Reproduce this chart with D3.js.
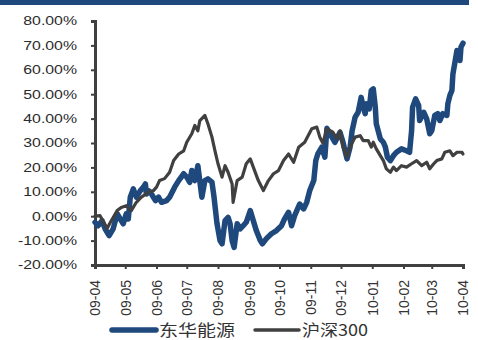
<!DOCTYPE html>
<html>
<head>
<meta charset="utf-8">
<script src="https://cdn.jsdelivr.net/npm/d3@7"></script>
<style>
  body { margin: 0; background: #fff; }
  svg { display: block; }
</style>
</head>
<body>
<div id="chart"></div>
<script>
// series names
const seriesNames = ["东华能源", "沪深300"];

// 东华能源 cumulative return (%)
const stockDates = ["2009-04-01","2009-04-04","2009-04-08","2009-04-11","2009-04-15","2009-04-19","2009-04-23","2009-04-26","2009-04-29",
  "2009-05-02","2009-05-04","2009-05-06","2009-05-09","2009-05-12","2009-05-16","2009-05-19","2009-05-21","2009-05-22","2009-05-24","2009-05-27","2009-05-31",
  "2009-06-03","2009-06-06","2009-06-11","2009-06-14","2009-06-19","2009-06-23","2009-06-28",
  "2009-07-01","2009-07-04","2009-07-06","2009-07-09","2009-07-12","2009-07-16","2009-07-19","2009-07-22","2009-07-26","2009-07-28","2009-07-31",
  "2009-08-03","2009-08-05","2009-08-08","2009-08-11","2009-08-13","2009-08-15","2009-08-17","2009-08-20","2009-08-23","2009-08-26","2009-08-29",
  "2009-09-02","2009-09-05","2009-09-08","2009-09-12","2009-09-14","2009-09-18","2009-09-23","2009-09-28",
  "2009-10-03","2009-10-06","2009-10-10","2009-10-13","2009-10-16","2009-10-21","2009-10-25","2009-10-28","2009-10-31",
  "2009-11-04","2009-11-06","2009-11-08","2009-11-12","2009-11-15","2009-11-17","2009-11-20","2009-11-25","2009-11-30",
  "2009-12-03","2009-12-05","2009-12-07","2009-12-10","2009-12-12","2009-12-15","2009-12-18","2009-12-21","2009-12-23","2009-12-25","2009-12-26","2009-12-29","2009-12-31",
  "2010-01-02","2010-01-04","2010-01-05","2010-01-09","2010-01-12","2010-01-14","2010-01-16","2010-01-19","2010-01-22","2010-01-25","2010-01-30",
  "2010-02-04","2010-02-07","2010-02-09","2010-02-10","2010-02-13","2010-02-16","2010-02-17","2010-02-21","2010-02-24","2010-02-27",
  "2010-03-01","2010-03-04","2010-03-07","2010-03-09","2010-03-12","2010-03-16","2010-03-17","2010-03-19","2010-03-21","2010-03-22","2010-03-24","2010-03-26","2010-03-28","2010-03-29","2010-03-30","2010-04-01"];
const stockValues = [-2.5,-3.9,-1.8,-5.2,-8,-5.2,1,-1.1,-3.1,
  1,-1.1,7.8,11.2,7.8,10.5,11.9,13.2,9.1,10.5,9.1,6.4,
  7.8,5.7,6.4,7.8,11.9,14.6,17.4,
  16,13.9,18.7,14.6,20.7,7.8,14.6,15.3,14,8,-3,
  -10,-11.3,-1.8,-0.5,-3.1,-10,-12.8,-3.1,-5.2,-3.9,-2.5,
  2.3,-1.8,-5.9,-10,-11.3,-9.2,-7.2,-5.9,
  -3.9,-1.1,1.6,-3.9,0.2,5,3,5.7,10.5,
  14.6,22.8,25.5,28.3,24.2,36,33.8,30.3,34.4,
  30.3,26.8,23.5,28.3,35,40.6,42.6,48.7,44.7,42,46.1,44,51.5,
  52.2,44.7,37.9,31.7,30.3,28.3,24.2,22.8,24.8,26.2,27.6,
  26.8,26.2,35,44.7,48.1,45.4,39.2,42.6,39.9,33.8,
  35,41.3,42,39.2,42,41.3,46.1,49.5,51.5,58.3,63.1,67.9,66.5,63.8,69.3,70.9];

// 沪深300 cumulative return (%)
const indexDates = ["2009-04-01","2009-04-06","2009-04-13","2009-04-16","2009-04-23","2009-04-27",
  "2009-05-02","2009-05-07","2009-05-12","2009-05-17","2009-05-24","2009-05-29",
  "2009-06-01","2009-06-04","2009-06-09","2009-06-14","2009-06-18","2009-06-23","2009-06-28",
  "2009-07-01","2009-07-06","2009-07-09","2009-07-12","2009-07-14","2009-07-19","2009-07-22","2009-07-26","2009-07-29",
  "2009-08-01","2009-08-05","2009-08-08","2009-08-11","2009-08-15","2009-08-16","2009-08-20","2009-08-25","2009-08-29",
  "2009-09-02","2009-09-05","2009-09-10","2009-09-15","2009-09-20","2009-09-25","2009-09-30",
  "2009-10-05","2009-10-10","2009-10-15","2009-10-20","2009-10-26",
  "2009-11-02","2009-11-07","2009-11-10","2009-11-13","2009-11-17","2009-11-23","2009-11-27","2009-11-30",
  "2009-12-03","2009-12-07","2009-12-10","2009-12-15","2009-12-20","2009-12-23","2009-12-28","2009-12-31",
  "2010-01-02","2010-01-05","2010-01-09","2010-01-12","2010-01-15","2010-01-19","2010-01-22","2010-01-25","2010-01-30",
  "2010-02-04","2010-02-09","2010-02-14","2010-02-19","2010-02-24","2010-02-27",
  "2010-03-03","2010-03-06","2010-03-11","2010-03-14","2010-03-19","2010-03-22","2010-03-26","2010-03-31","2010-04-01"];
const indexValues = [0,0.2,-5,-2.7,2.3,3.6,
  4.3,2.3,5.7,7.8,9.8,10.5,
  11.9,14.6,15.4,18,22.8,25.5,26.8,
  30.3,33.8,37.2,35,39.2,41.3,37.9,32.4,26.8,
  21.5,16,20.7,18,13.2,5.7,14.6,16,21.5,
  23.5,20.1,14.6,10.5,14.6,17.4,18.7,
  22.8,25.5,22.1,28.3,30.3,
  35.8,36.5,32.4,30,35.8,34.4,31.7,35,
  28.3,24.2,28.3,32.4,33,31,31,28.3,
  30.3,27.6,24.8,22.8,19.4,18,20.1,18.7,20.7,
  20.1,21.5,22.8,20.7,22.1,19.4,
  21.5,22.8,23.5,26.2,26.8,24.8,26.2,26.2,25.5];

// axis ticks
const yTicks = [-20, -10, 0, 10, 20, 30, 40, 50, 60, 70, 80];
const xTickLabels = ["09-04","09-05","09-06","09-07","09-08","09-09","09-10","09-11","09-12","10-01","10-02","10-03","10-04"];

const width = 478, height = 340;
const parse = d3.timeParse("%Y-%m-%d");
const blue = "#1F497D", grey = "#404040";

const svg = d3.select("#chart").append("svg")
    .attr("width", width)
    .attr("height", height);

// top band
svg.append("rect")
    .attr("x", 0).attr("y", 0)
    .attr("width", 469).attr("height", 5)
    .attr("fill", blue);

const x = d3.scaleTime()
    .domain([parse("2009-04-01"), parse("2010-04-01")])
    .range([95, 463]);
const y = d3.scaleLinear()
    .domain([-20, 80])
    .range([265, 21]);

const stock = stockDates.map((d, i) => ({date: parse(d), v: stockValues[i]}));
const index = indexDates.map((d, i) => ({date: parse(d), v: indexValues[i]}));

// y axis
const yAxis = svg.append("g")
    .attr("transform", "translate(95,0)")
    .call(d3.axisLeft(y).tickValues(yTicks).tickSize(4).tickPadding(14)
        .tickFormat(d => d.toFixed(2) + "%"));
yAxis.select(".domain").attr("stroke", grey).attr("stroke-width", 3);
yAxis.selectAll(".tick line").attr("stroke", grey).attr("stroke-width", 2);
yAxis.selectAll("text")
    .attr("font-family", "'Liberation Sans', Arial, sans-serif")
    .attr("font-size", 12)
    .attr("fill", "#2b2b2b")
    .each(function() {
        const w = this.getComputedTextLength();
        d3.select(this).attr("textLength", w * 1.32).attr("lengthAdjust", "spacingAndGlyphs");
    });

// x axis
const xTickDates = xTickLabels.map(s => parse("20" + s + "-01"));
const xAxis = svg.append("g")
    .attr("transform", "translate(0,265)")
    .call(d3.axisBottom(x).tickValues(xTickDates).tickSize(4)
        .tickFormat((d, i) => xTickLabels[i]));
xAxis.select(".domain").attr("stroke", grey).attr("stroke-width", 3);
xAxis.selectAll(".tick line").attr("stroke", grey).attr("stroke-width", 2);
xAxis.selectAll("text")
    .attr("font-family", "'Liberation Sans', Arial, sans-serif")
    .attr("font-size", 14)
    .attr("fill", "#333")
    .attr("text-anchor", "end")
    .attr("transform", "rotate(-90)")
    .attr("x", -15)
    .attr("y", 0)
    .attr("dy", "0.35em");

// lines
const line = d3.line()
    .x(d => x(d.date))
    .y(d => y(d.v));

svg.append("path")
    .datum(stock)
    .attr("fill", "none")
    .attr("stroke", blue)
    .attr("stroke-width", 5.5)
    .attr("stroke-linejoin", "round")
    .attr("stroke-linecap", "round")
    .attr("d", line);

svg.append("path")
    .datum(index)
    .attr("fill", "none")
    .attr("stroke", grey)
    .attr("stroke-width", 3.2)
    .attr("stroke-linejoin", "round")
    .attr("stroke-linecap", "round")
    .attr("d", line);

// legend
const legend = [
    {name: seriesNames[0], color: blue, w: 5.5, x: 112},
    {name: seriesNames[1], color: grey, w: 3.5, x: 255}
];
const lg = svg.append("g").selectAll("g").data(legend).join("g")
    .attr("transform", d => `translate(${d.x},330)`);
lg.append("line")
    .attr("x1", 0).attr("x2", 44)
    .attr("stroke", d => d.color)
    .attr("stroke-width", d => d.w)
    .attr("stroke-linecap", "round");
lg.append("text")
    .attr("x", 47)
    .attr("dy", "0.35em")
    .attr("font-family", "'Noto Sans CJK SC', sans-serif")
    .attr("font-size", 16)
    .attr("fill", "#333")
    .attr("textLength", d => d.name === seriesNames[0] ? 76 : 66)
    .attr("lengthAdjust", "spacingAndGlyphs")
    .text(d => d.name);
</script>
</body>
</html>
